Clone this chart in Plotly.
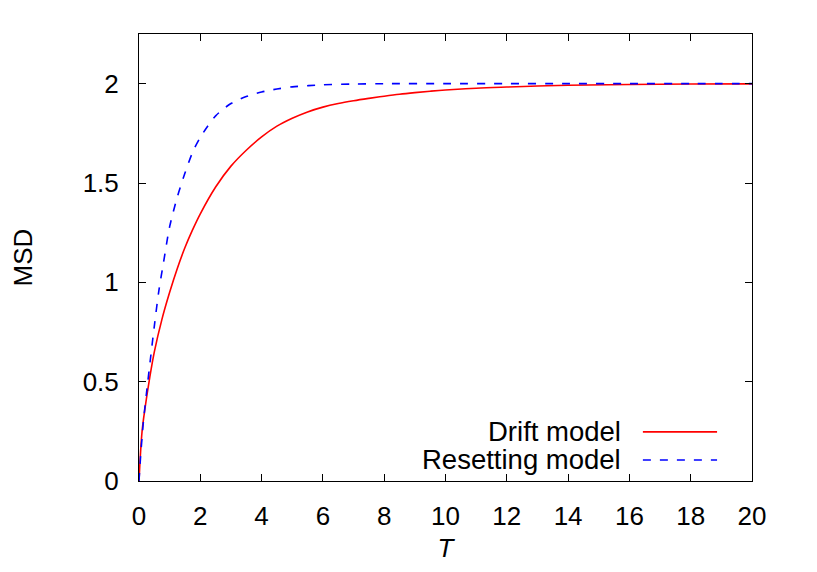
import plotly.graph_objects as go

# Drift model (red, solid)
t_drift = [0, 0.1, 0.2, 0.35, 0.5, 0.75, 1, 1.25, 1.5, 1.75, 2, 2.5, 3, 3.5, 4, 4.5,
           5, 5.5, 6, 6.5, 7, 7.5, 8, 8.5, 9, 9.5, 10, 11, 12, 13, 14, 16, 18, 20]
msd_drift = [0, 0.25, 0.37, 0.52, 0.65, 0.815, 0.95, 1.07, 1.175, 1.265, 1.345, 1.48, 1.585,
             1.665, 1.732, 1.786, 1.826, 1.858, 1.882, 1.9, 1.914, 1.926, 1.937, 1.947,
             1.955, 1.962, 1.968, 1.977, 1.983, 1.988, 1.992, 1.996, 1.998, 1.999]

# Resetting model (blue, dashed)
t_reset = [0, 0.05, 0.1, 0.15, 0.25, 0.4, 0.5, 0.65, 0.8, 1, 1.25, 1.5, 1.75, 2, 2.5,
           3, 3.5, 4, 4.5, 5, 6, 7, 8, 10, 12, 14, 16, 18, 20]
msd_reset = [0, 0.12, 0.22, 0.31, 0.45, 0.65, 0.78, 0.96, 1.10, 1.28, 1.43, 1.55, 1.655,
             1.73, 1.838, 1.9, 1.935, 1.958, 1.973, 1.984, 1.994, 1.998, 2.0, 2.0, 2.0,
             2.0, 2.0, 2.0, 2.0]

x_ticks = [0, 2, 4, 6, 8, 10, 12, 14, 16, 18, 20]
y_ticks = [0, 0.5, 1, 1.5, 2]
y_tick_labels = ["0", "0.5", "1", "1.5", "2"]

FONT = "Liberation Sans, Arial, sans-serif"

fig = go.Figure()
fig.add_trace(go.Scatter(x=t_drift, y=msd_drift, mode="lines", name="Drift model",
                         line=dict(color="#ff0000", width=1.6, shape="spline", smoothing=1.0),
                         showlegend=False))
fig.add_trace(go.Scatter(x=t_reset, y=msd_reset, mode="lines", name="Resetting model",
                         line=dict(color="#0000ff", width=1.6, dash="8px,9px",
                                   shape="spline", smoothing=0.8),
                         showlegend=False))

# gnuplot-style key: right-justified text with sample line on the right
legend_items = [("Drift model", "#ff0000", "solid", 0.110),
                ("Resetting model", "#0000ff", "8px,9px", 0.047)]
for label, color, dash, yp in legend_items:
    fig.add_annotation(x=0.789, y=yp, xref="paper", yref="paper", text=label,
                       showarrow=False, xanchor="right", yanchor="middle",
                       font=dict(family=FONT, size=27.5, color="black"))
    fig.add_shape(type="line", xref="paper", yref="paper", x0=0.822, x1=0.943,
                  y0=yp, y1=yp, line=dict(color=color, width=1.6, dash=dash))

axis_common = dict(
    showgrid=False, zeroline=False, showline=True, linecolor="black", linewidth=1,
    mirror="allticks", ticks="inside", ticklen=7, tickwidth=1, tickcolor="black",
    tickfont=dict(family=FONT, size=26, color="black"),
)

fig.update_xaxes(range=[0, 20], tickvals=x_ticks, ticktext=[str(v) for v in x_ticks],
                 ticklabelstandoff=12,
                 title=dict(text="<i>T</i>", font=dict(family=FONT, size=26, color="black"),
                            standoff=8),
                 **axis_common)
fig.update_yaxes(range=[0, 2.25], tickvals=y_ticks, ticktext=y_tick_labels,
                 ticklabelstandoff=14,
                 title=dict(text="MSD", font=dict(family=FONT, size=26, color="black"),
                            standoff=43),
                 **axis_common)

fig.update_layout(width=817, height=572, plot_bgcolor="white", paper_bgcolor="white",
                  margin=dict(l=131, r=73, t=26, b=99), showlegend=False)

fig.write_html("out.html")
